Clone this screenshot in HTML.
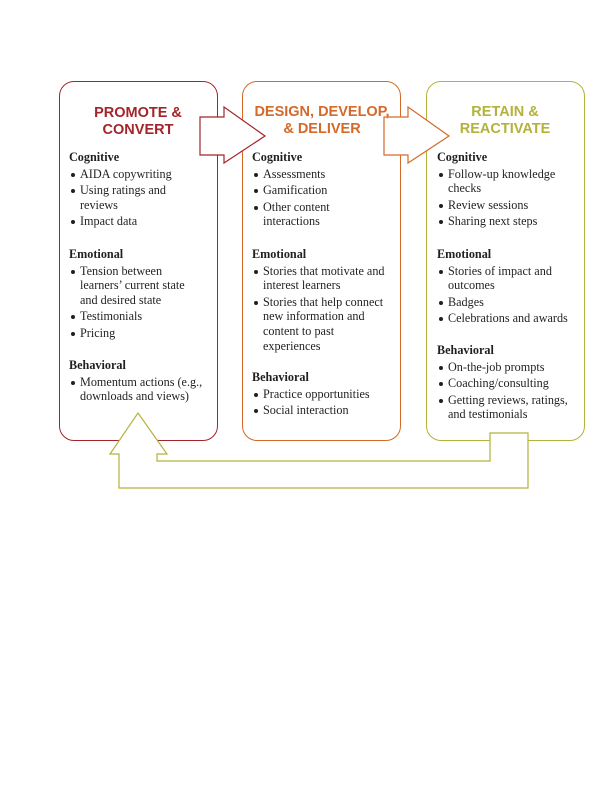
<!DOCTYPE html>
<html><head><meta charset="utf-8"><style>
body{margin:0;width:612px;height:792px;background:#fff;position:relative;overflow:hidden;font-family:"Liberation Serif",serif;color:#231f20}
.box{position:absolute;top:81px;width:159px;height:360px;border:1.3px solid;border-radius:15px;box-sizing:border-box}
.h{position:absolute;font-family:"Liberation Sans",sans-serif;font-weight:bold;font-size:14.5px;text-align:center;line-height:17px;width:180px}
.s{position:absolute;font-size:12.2px;line-height:14.6px;width:136px}
.s b{display:block;font-weight:bold;margin-bottom:2px;font-size:12.2px}
.s ul{margin:0;padding:0;list-style:none}
.s li{position:relative;padding-left:11px;margin-bottom:2px}
.s li:before{content:"";position:absolute;left:2px;top:6px;width:4px;height:4px;border-radius:50%;background:#231f20}
svg{position:absolute;left:0;top:0}
</style></head><body>
<div class="box" style="left:59px;border-color:#a3242a"></div>
<div class="box" style="left:242px;border-color:#d4692a"></div>
<div class="box" style="left:426px;border-color:#b3b23a"></div>
<svg width="612" height="792">
<polygon points="200,117 224,117 224,107 265,136 224,163 224,155 200,155" fill="#fff" stroke="#a3242a" stroke-width="1.2"/>
<polygon points="384,117 408,117 408,107 449,136 408,163 408,155 384,155" fill="#fff" stroke="#d4692a" stroke-width="1.2"/>
<polygon points="490,433 490,461 157,461 157,454 167,454 138,413 110,454 119,454 119,488 528,488 528,433" fill="#fff" stroke="#b3b23a" stroke-width="1.2"/>
</svg>
<div class="h" style="left:48px;top:105px;color:#a3242a">PROMOTE &amp;<br>CONVERT</div>
<div class="h" style="left:232px;top:104px;color:#d4692a">DESIGN, DEVELOP,<br>&amp; DELIVER</div>
<div class="h" style="left:415px;top:104px;color:#b3b23a">RETAIN &amp;<br>REACTIVATE</div>

<div class="s" style="left:69px;top:150px"><b>Cognitive</b><ul><li>AIDA copywriting</li><li>Using ratings and reviews</li><li>Impact data</li></ul></div>
<div class="s" style="left:69px;top:247px"><b>Emotional</b><ul><li>Tension between learners’ current state and desired state</li><li>Testimonials</li><li>Pricing</li></ul></div>
<div class="s" style="left:69px;top:358px"><b>Behavioral</b><ul><li>Momentum actions (e.g., downloads and views)</li></ul></div>

<div class="s" style="left:252px;top:150px;width:140px"><b>Cognitive</b><ul><li>Assessments</li><li>Gamification</li><li>Other content<br>interactions</li></ul></div>
<div class="s" style="left:252px;top:247px;width:140px"><b>Emotional</b><ul><li>Stories that motivate and interest learners</li><li>Stories that help connect new information and content to past experiences</li></ul></div>
<div class="s" style="left:252px;top:370px;width:140px"><b>Behavioral</b><ul><li>Practice opportunities</li><li>Social interaction</li></ul></div>

<div class="s" style="left:437px;top:150px;width:146px"><b>Cognitive</b><ul><li>Follow-up knowledge checks</li><li>Review sessions</li><li>Sharing next steps</li></ul></div>
<div class="s" style="left:437px;top:247px;width:146px"><b>Emotional</b><ul><li>Stories of impact and outcomes</li><li>Badges</li><li>Celebrations and awards</li></ul></div>
<div class="s" style="left:437px;top:343px;width:146px"><b>Behavioral</b><ul><li>On-the-job prompts</li><li>Coaching/consulting</li><li>Getting reviews, ratings, and testimonials</li></ul></div>
</body></html>
